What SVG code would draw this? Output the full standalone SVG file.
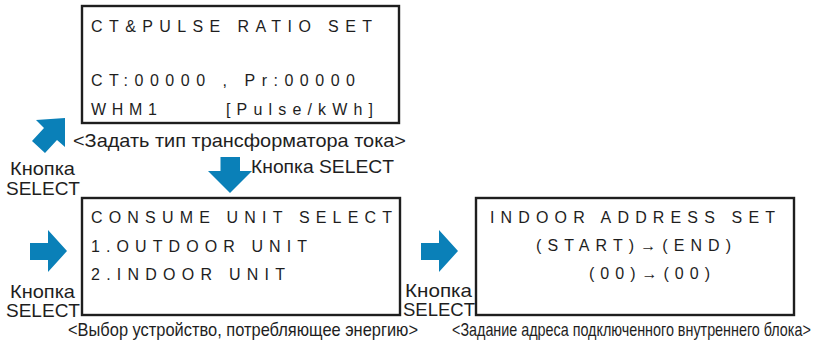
<svg xmlns="http://www.w3.org/2000/svg" width="817" height="345" viewBox="0 0 817 345">
  <style>
    .screen { fill: #ffffff; stroke: #1e1e1e; stroke-width: 2.4; }
    .lcd { font-family: "Liberation Sans", Arial, sans-serif; font-size: 16px; fill: #1e1e1e; }
    .cap { font-family: "Liberation Sans", Arial, sans-serif; font-size: 19px; fill: #1e1e1e; }
    .cap-low { font-family: "Liberation Sans", Arial, sans-serif; font-size: 18.5px; fill: #1e1e1e; }
    .btn { font-family: "Liberation Sans", Arial, sans-serif; font-size: 19px; fill: #1e1e1e; }
    .blk { fill: #0a80b8; stroke: none; }
  </style>
  <defs>
    <!-- block arrow pointing right, origin at shaft top-left -->
    <polygon id="arrowRight" points="0,13 18,13 18,0 37,21 18,42 18,30 0,30"/>
  </defs>

  <rect width="817" height="345" fill="#ffffff"/>

  <!-- screen: CT & pulse ratio -->
  <g id="ct-pulse-ratio">
    <rect class="screen" x="82" y="6" width="317" height="117"/>
    <text class="lcd" x="91" y="32" textLength="281" lengthAdjust="spacing">CT&amp;PULSE RATIO SET</text>
    <text class="lcd" x="91" y="86" textLength="264" lengthAdjust="spacing">CT:00000 , Pr:00000</text>
    <text class="lcd" x="91" y="115" textLength="66" lengthAdjust="spacing">WHM1</text>
    <text class="lcd" x="226" y="115" textLength="147" lengthAdjust="spacing">[Pulse/kWh]</text>
    <text class="cap" x="73" y="147" textLength="333" lengthAdjust="spacingAndGlyphs">&lt;Задать тип трансформатора тока&gt;</text>
  </g>

  <!-- screen: consume unit select -->
  <g id="consume-unit-select">
    <rect class="screen" x="82" y="198" width="318" height="117"/>
    <text class="lcd" x="91" y="223" textLength="301" lengthAdjust="spacing">CONSUME UNIT SELECT</text>
    <text class="lcd" x="91" y="252" textLength="216" lengthAdjust="spacing">1.OUTDOOR UNIT</text>
    <text class="lcd" x="91" y="280" textLength="194" lengthAdjust="spacing">2.INDOOR UNIT</text>
    <text class="cap-low" x="68" y="336" textLength="350" lengthAdjust="spacingAndGlyphs">&lt;Выбор устройство, потребляющее энергию&gt;</text>
  </g>

  <!-- screen: indoor address set -->
  <g id="indoor-address-set">
    <rect class="screen" x="476" y="198" width="318" height="117"/>
    <text class="lcd" x="490" y="223" textLength="285" lengthAdjust="spacing">INDOOR ADDRESS SET</text>
    <text class="lcd" x="536" y="251" textLength="195" lengthAdjust="spacing">(START)→(END)</text>
    <text class="lcd" x="589" y="279" textLength="121" lengthAdjust="spacing">(00)→(00)</text>
    <!-- narrow caption: squeezed horizontally to fit the right margin -->
    <text class="cap-low" transform="translate(452,336) scale(0.78,1)" x="0" y="0" textLength="460" lengthAdjust="spacingAndGlyphs">&lt;Задание адреса подключенного внутреннего блока&gt;</text>
  </g>

  <!-- SELECT button transitions -->
  <g id="connectors">
    <polygon class="blk" points="36,120 65,118 65,147 57,140 45,153 32,141 44,128"/>
    <polygon class="blk" points="220.5,157 240,157 240,171 252,171 230,193 208,171 220.5,171"/>
    <use href="#arrowRight" class="blk" x="30" y="230"/>
    <use href="#arrowRight" class="blk" x="421" y="230"/>
  </g>

  <g id="button-labels">
    <text class="btn" x="10" y="175" textLength="65" lengthAdjust="spacingAndGlyphs">Кнопка</text>
    <text class="btn" x="6" y="195" textLength="74" lengthAdjust="spacingAndGlyphs">SELECT</text>
    <text class="btn" x="251" y="173" textLength="143" lengthAdjust="spacingAndGlyphs">Кнопка SELECT</text>
    <text class="btn" x="10" y="298" textLength="65" lengthAdjust="spacingAndGlyphs">Кнопка</text>
    <text class="btn" x="6" y="317" textLength="74" lengthAdjust="spacingAndGlyphs">SELECT</text>
    <text class="btn" x="405" y="297" textLength="67" lengthAdjust="spacingAndGlyphs">Кнопка</text>
    <text class="btn" x="403" y="316" textLength="72" lengthAdjust="spacingAndGlyphs">SELECT</text>
  </g>
</svg>
